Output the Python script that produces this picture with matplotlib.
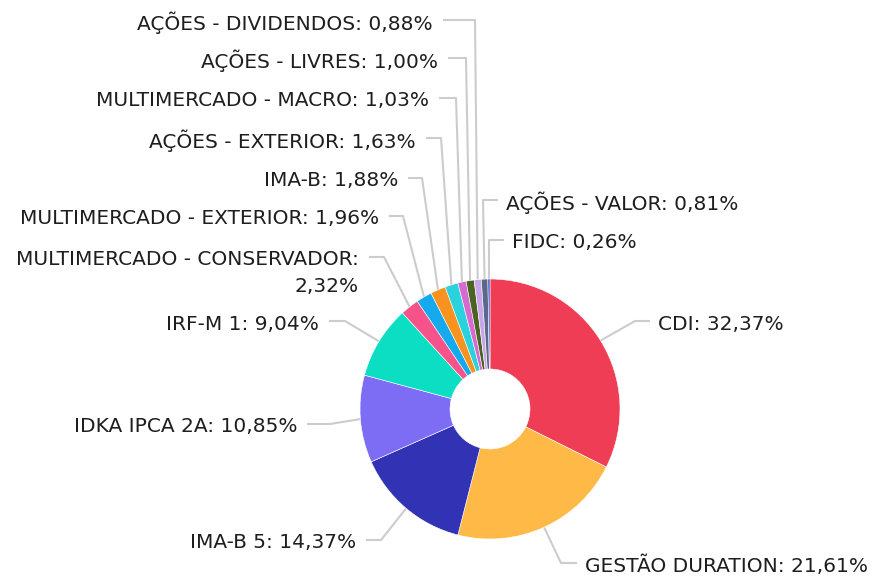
import numpy as np
import matplotlib
matplotlib.use("Agg")
import matplotlib.pyplot as plt

# Portfolio allocation (%), clockwise from 12 o'clock
names = ['CDI', 'GESTÃO DURATION', 'IMA-B 5', 'IDKA IPCA 2A', 'IRF-M 1',
         'MULTIMERCADO - CONSERVADOR', 'MULTIMERCADO - EXTERIOR', 'IMA-B',
         'AÇÕES - EXTERIOR', 'MULTIMERCADO - MACRO', 'AÇÕES - LIVRES',
         'AÇÕES - DIVIDENDOS', 'AÇÕES - VALOR', 'FIDC']
values = [32.37, 21.61, 14.37, 10.85, 9.04, 2.32, 1.96, 1.88, 1.63, 1.03, 1.00, 0.88, 0.81, 0.26]
colors = ['#EE3D55', '#FFB946', '#3232B5', '#7D6DF5', '#0BDEC3', '#F6538A', '#16A9EE',
          '#F7931E', '#29D2DD', '#D56BD1', '#4B6222', '#C9A5EA', '#5B6889', '#3C52C8']

W, H = 873, 577
cx, cy, r, r_in = 490, 409, 130, 40

# label layout in pixel coords: (elbow x, elbow y, text x, side)
layout = [
    (635, 321, 658, 'right'),
    (561, 563, 585, 'right'),
    (381, 540, 356, 'left'),
    (330, 424, 297, 'left'),
    (345, 321, 319, 'left'),
    (384, 257, 359, 'left'),
    (403, 216, 379, 'left'),
    (422, 178, 398, 'left'),
    (441, 138, 416, 'left'),
    (456, 98, 429, 'left'),
    (466, 58, 438, 'left'),
    (475, 20, 433, 'left'),
    (483, 200, 506, 'right'),
    (489, 240, 512, 'right'),
]


def fy(y):
    return H - y


def fmt(v):
    return f'{v:.2f}'.replace('.', ',') + '%'


fig = plt.figure(figsize=(W / 100, H / 100), dpi=100)
ax = fig.add_axes([0, 0, 1, 1])
ax.set_xlim(0, W)
ax.set_ylim(0, H)
ax.set_aspect('equal')
ax.axis('off')

ax.pie(values, colors=colors, startangle=90, counterclock=False,
       center=(cx, fy(cy)), radius=r,
       wedgeprops=dict(width=r - r_in, edgecolor='white', linewidth=0.4))
ax.set_xlim(0, W)
ax.set_ylim(0, H)

fs = 14.5
cum = np.cumsum([0] + values[:-1])
total = sum(values)
for name, v, c0, (ex, ey, tx, side) in zip(names, values, cum, layout):
    mid = (c0 + v / 2) / total
    ang = np.deg2rad(90 - 360 * mid)
    px = cx + r * np.cos(ang)
    py = fy(cy) + r * np.sin(ang)
    if side == 'right':
        hx = tx - 8
        ha = 'left'
    else:
        hx = tx + 10
        ha = 'right'
    ax.plot([px, ex, hx], [py, fy(ey), fy(ey)], color='#cccccc', lw=1.5,
            solid_capstyle='butt', zorder=0)
    label = f'{name}: {fmt(v)}'
    ty = fy(ey + 3)
    if name == 'MULTIMERCADO - CONSERVADOR':
        label = f'{name}:\n{fmt(v)}'
        ty = fy(ey + 16)
        ax.text(tx, ty, label, ha=ha, va='center', fontsize=fs, color='#1e1e1e',
                multialignment='right', linespacing=1.5)
        continue
    ax.text(tx, ty, label, ha=ha, va='center', fontsize=fs, color='#1e1e1e')

fig.savefig('out.png', dpi=100)
